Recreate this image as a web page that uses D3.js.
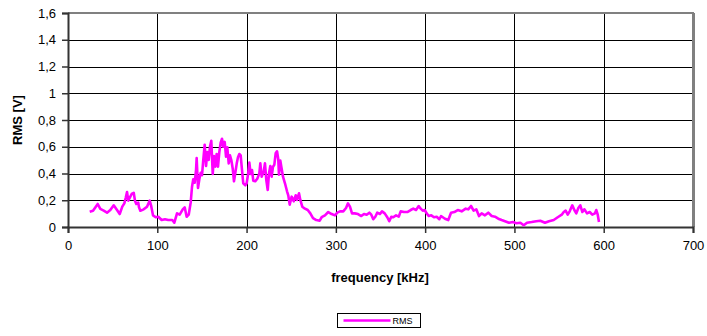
<!DOCTYPE html>
<html>
<head>
<meta charset="utf-8">
<script src="https://cdn.jsdelivr.net/npm/d3@7"></script>
<style>
  body { margin: 0; background: #fff; }
  svg { display: block; font-family: "Liberation Sans", Arial, sans-serif; }
</style>
</head>
<body>
<div id="chart"></div>
<script>
// -------- data --------------------------------- //
var freq = [24.3, 28, 33.3, 36.2, 40, 43.7, 47.4, 51.2, 54.9, 57.9, 60.8, 63.1, 64.6, 66.1, 67.5, 69.8, 71.3, 73.6, 75, 76.5, 78.7, 79.5, 81, 84.8, 88.5, 91.5, 93, 95.2, 98.2, 101.1, 104.9, 108.6, 112.3, 116.8, 119.1, 122.1, 125.1, 128.5, 130.7, 132.9, 135.2, 137.4, 138.9, 140.3, 141.9, 143.4, 144.1, 145.6, 147.1, 148.6, 150.1, 151.5, 153.1, 154.6, 156, 157.6, 159, 160.5, 162.1, 163.5, 165, 166.5, 168, 169.5, 171, 172.5, 173.9, 175.5, 177, 178.4, 180, 181.4, 182.9, 184.5, 185.9, 187.4, 189, 190.4, 191.9, 193.4, 194.9, 196.3, 198.6, 200.1, 201.6, 203.1, 204.6, 206.1, 207.5, 209.8, 212, 214.3, 215.4, 216.9, 219.2, 220.6, 222.1, 223.7, 225.1, 226.6, 228.1, 229.6, 231.1, 232.6, 234.1, 235.5, 236.3, 237.8, 239.3, 240.8, 243, 245.3, 246.7, 248.3, 250.5, 252.8, 255, 256.5, 258.7, 260.2, 262.4, 265.4, 268.5, 271.4, 274.4, 278.1, 281.9, 284.1, 287.8, 291.5, 295.3, 299, 301.6, 304.6, 308.3, 311.4, 313.6, 315.8, 318.1, 321.1, 324.8, 328.5, 331.5, 334.5, 337.5, 339.7, 341.9, 344.2, 346.4, 349.4, 351.7, 354.7, 357.6, 359.8, 362.1, 364.3, 367.4, 370.4, 372.6, 376.3, 380, 383.8, 386.7, 389.8, 392.8, 395, 397.3, 399.5, 401.7, 404, 406.9, 409.9, 412.9, 415.9, 417.8, 422.2, 425.9, 429, 432.7, 436.5, 440.9, 445.4, 448.3, 451.4, 454.3, 457.3, 460.3, 463.3, 467, 470.7, 474.5, 478.2, 481.9, 485.7, 489.4, 493.9, 498.4, 502.1, 506.6, 510.4, 514.1, 519.3, 524.5, 529, 534.2, 538.7, 544, 548.5, 553, 555.2, 557.4, 559.7, 561.9, 564.8, 567.1, 569.3, 571.6, 573.8, 576.1, 578.3, 581.3, 584.3, 587.2, 590.2, 591.7, 593.3, 594.7];
var rms = [0.114, 0.122, 0.172, 0.135, 0.122, 0.107, 0.127, 0.162, 0.127, 0.097, 0.152, 0.177, 0.217, 0.262, 0.197, 0.227, 0.247, 0.256, 0.197, 0.172, 0.182, 0.147, 0.122, 0.132, 0.152, 0.197, 0.162, 0.087, 0.073, 0.077, 0.052, 0.058, 0.052, 0.052, 0.032, 0.102, 0.092, 0.132, 0.147, 0.077, 0.092, 0.182, 0.301, 0.357, 0.331, 0.426, 0.516, 0.292, 0.357, 0.406, 0.387, 0.501, 0.615, 0.456, 0.561, 0.501, 0.6, 0.645, 0.396, 0.531, 0.451, 0.546, 0.451, 0.561, 0.63, 0.66, 0.6, 0.636, 0.526, 0.596, 0.476, 0.536, 0.501, 0.436, 0.342, 0.406, 0.476, 0.521, 0.546, 0.536, 0.426, 0.327, 0.312, 0.327, 0.391, 0.481, 0.396, 0.426, 0.346, 0.342, 0.361, 0.401, 0.476, 0.376, 0.416, 0.476, 0.351, 0.277, 0.401, 0.456, 0.376, 0.451, 0.466, 0.551, 0.566, 0.506, 0.391, 0.496, 0.436, 0.376, 0.327, 0.267, 0.237, 0.167, 0.227, 0.192, 0.237, 0.202, 0.252, 0.202, 0.152, 0.137, 0.127, 0.102, 0.067, 0.052, 0.047, 0.073, 0.087, 0.112, 0.097, 0.087, 0.107, 0.117, 0.117, 0.142, 0.177, 0.152, 0.102, 0.102, 0.097, 0.082, 0.097, 0.092, 0.107, 0.092, 0.058, 0.077, 0.107, 0.097, 0.117, 0.102, 0.073, 0.043, 0.077, 0.073, 0.087, 0.077, 0.117, 0.112, 0.112, 0.127, 0.137, 0.127, 0.157, 0.137, 0.122, 0.127, 0.102, 0.082, 0.087, 0.073, 0.077, 0.058, 0.082, 0.062, 0.052, 0.107, 0.112, 0.127, 0.117, 0.137, 0.132, 0.157, 0.122, 0.132, 0.082, 0.102, 0.087, 0.107, 0.082, 0.077, 0.062, 0.052, 0.043, 0.032, 0.037, 0.028, 0.032, 0.013, 0.032, 0.037, 0.043, 0.047, 0.032, 0.043, 0.052, 0.073, 0.092, 0.112, 0.122, 0.092, 0.117, 0.162, 0.127, 0.102, 0.142, 0.162, 0.112, 0.132, 0.102, 0.112, 0.092, 0.102, 0.127, 0.092, 0.037];
var xTicks = [0, 100, 200, 300, 400, 500, 600, 700];
var yTicks = [0, 0.2, 0.4, 0.6, 0.8, 1, 1.2, 1.4, 1.6];
var seriesName = "RMS";

// -------- layout ---------- //
var W = 707, H = 336;
var margin = { top: 13, right: 14, bottom: 109, left: 68 };
var width = W - margin.left - margin.right;
var height = H - margin.top - margin.bottom;

var svg = d3.select("#chart").append("svg")
  .attr("width", W).attr("height", H);

var x = d3.scaleLinear().domain([0, 700]).range([0, width]);
var y = d3.scaleLinear().domain([0, 1.6]).range([height, 0]);

var fmt = function(d) { return String(d).replace(".", ","); };

var g = svg.append("g").attr("transform", "translate(" + margin.left + "," + margin.top + ")");

// horizontal gridlines
g.append("g").selectAll("line")
  .data(yTicks.filter(function(d) { return d > 0 && d < 1.6; }))
  .join("line")
  .attr("x1", 0).attr("x2", width)
  .attr("y1", function(d) { return Math.round(y(d)) + 0.5; })
  .attr("y2", function(d) { return Math.round(y(d)) + 0.5; })
  .attr("stroke", "#000").attr("stroke-width", 1);

// vertical gridlines
g.append("g").selectAll("line")
  .data(xTicks.filter(function(d) { return d > 0 && d < 700; }))
  .join("line")
  .attr("x1", function(d) { return Math.round(x(d)) + 0.5; })
  .attr("x2", function(d) { return Math.round(x(d)) + 0.5; })
  .attr("y1", 0).attr("y2", height)
  .attr("stroke", "#000").attr("stroke-width", 1);

// frame top / right
g.append("line").attr("x1", 0).attr("x2", width + 1).attr("y1", 0).attr("y2", 0)
  .attr("stroke", "#808080").attr("stroke-width", 2);
g.append("line").attr("x1", width + 0.5).attr("x2", width + 0.5).attr("y1", 0).attr("y2", height)
  .attr("stroke", "#808080").attr("stroke-width", 3);

// axes
var yAxis = g.append("g")
  .call(d3.axisLeft(y).tickValues(yTicks).tickFormat(fmt).tickSize(6).tickPadding(6));
var xAxis = g.append("g").attr("transform", "translate(0," + height + ")")
  .call(d3.axisBottom(x).tickValues(xTicks).tickSize(6).tickPadding(8));

[yAxis, xAxis].forEach(function(a) {
  a.select(".domain").attr("stroke", "#333").attr("stroke-width", 2);
  a.selectAll(".tick line").attr("stroke", "#333").attr("stroke-width", 1.5);
  a.selectAll(".tick text").attr("fill", "#000").style("font-size", "13px")
    .style("font-family", "'Liberation Sans', Arial, sans-serif");
});

// the curve
var line = d3.line()
  .x(function(d, i) { return x(freq[i]); })
  .y(function(d) { return y(d); });

g.append("path")
  .datum(rms)
  .attr("d", line)
  .attr("fill", "none")
  .attr("stroke", "#ff00ff")
  .attr("stroke-width", 2.6)
  .attr("stroke-linejoin", "round");

// axis titles
svg.append("text")
  .attr("transform", "translate(22," + (margin.top + height / 2) + ") rotate(-90)")
  .attr("text-anchor", "middle")
  .style("font-size", "13px").style("font-weight", "bold")
  .text("RMS [V]");

svg.append("text")
  .attr("x", 380).attr("y", 282)
  .attr("text-anchor", "middle")
  .style("font-size", "13px").style("font-weight", "bold")
  .text("frequency [kHz]");

// legend
var lg = svg.append("g").attr("transform", "translate(337.5,313.5)");
lg.append("rect").attr("width", 83).attr("height", 14)
  .attr("fill", "#fff").attr("stroke", "#000").attr("stroke-width", 1);
lg.append("line").attr("x1", 6).attr("x2", 53).attr("y1", 7).attr("y2", 7)
  .attr("stroke", "#ff00ff").attr("stroke-width", 2.6);
lg.append("text").attr("x", 55).attr("y", 10.5)
  .style("font-size", "9px").text(seriesName);
</script>
</body>
</html>
